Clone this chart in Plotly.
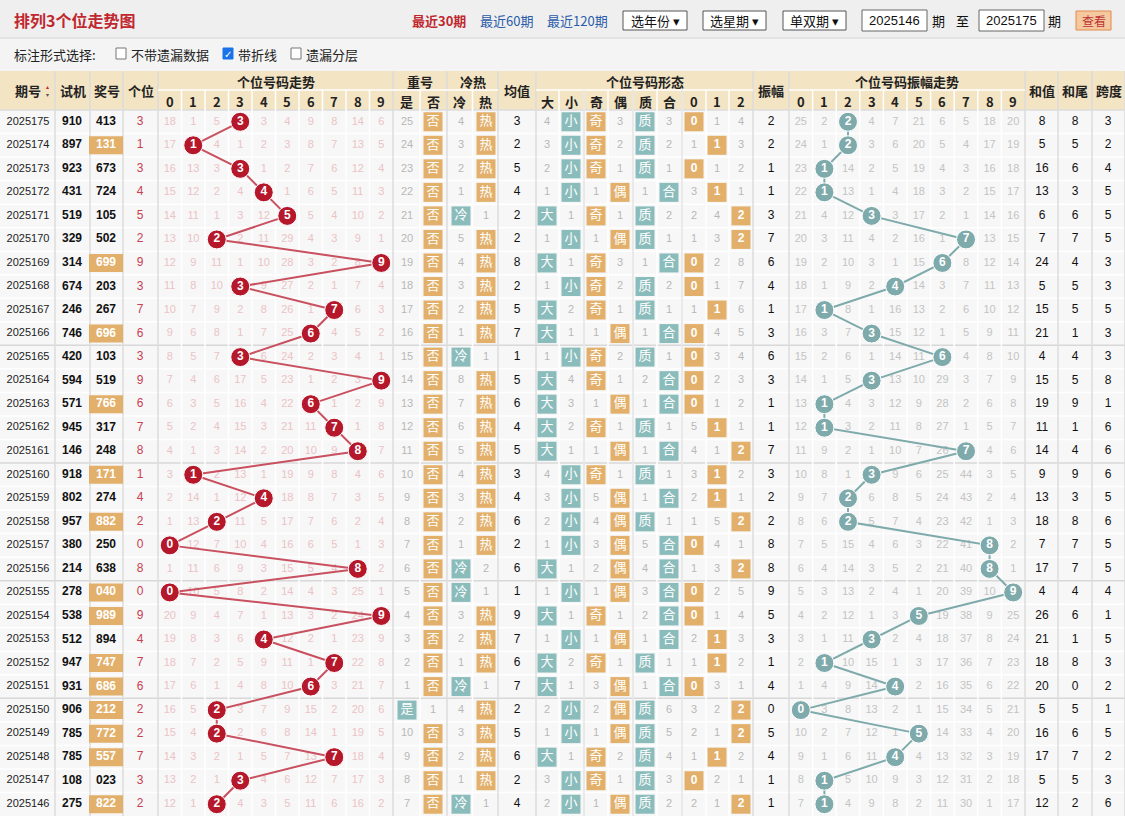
import plotly.graph_objects as go

# ---------------- data ----------------
periods = [2025175 - i for i in range(30)]
shiji = ["910","897","923","431","519","329","314","674","246","746","420","594","571","945","146",
         "918","802","957","380","214","278","538","512","947","931","906","785","785","108","275"]
jianghao = ["413","131","673","724","105","502","699","203","267","696","103","519","766","317","248",
            "171","274","882","250","638","040","989","894","747","686","212","772","557","023","822"]
trend_omit = [
    [18,1,5,0,3,4,9,8,14,6],[17,0,4,1,2,3,8,7,13,5],[16,13,3,0,1,2,7,6,12,4],[15,12,2,4,0,1,6,5,11,3],
    [14,11,1,3,12,0,5,4,10,2],[13,10,0,2,11,29,4,3,9,1],[12,9,11,1,10,28,3,2,8,0],[11,8,10,0,9,27,2,1,7,4],
    [10,7,9,2,8,26,1,0,6,3],[9,6,8,1,7,25,0,4,5,2],[8,5,7,0,6,24,2,3,4,1],[7,4,6,17,5,23,1,2,3,0],
    [6,3,5,16,4,22,0,1,2,9],[5,2,4,15,3,21,11,0,1,8],[4,1,3,14,2,20,10,9,0,7],[3,0,2,13,1,19,9,8,4,6],
    [2,14,1,12,0,18,8,7,3,5],[1,13,0,11,5,17,7,6,2,4],[0,12,7,10,4,16,6,5,1,3],[1,11,6,9,3,15,5,4,0,2],
    [0,10,5,8,2,14,4,3,25,1],[20,9,4,7,1,13,3,2,24,0],[19,8,3,6,0,12,2,1,23,9],[18,7,2,5,9,11,1,0,22,8],
    [17,6,1,4,8,10,0,3,21,7],[16,5,0,3,7,9,15,2,20,6],[15,4,0,2,6,8,14,1,19,5],[14,3,2,1,5,7,13,0,18,4],
    [13,2,1,0,4,6,12,7,17,3],[12,1,0,4,3,5,11,6,16,2]]
chong_yes = [25,24,23,22,21,20,19,18,17,16,15,14,13,12,11,10,9,8,7,6,5,4,3,2,1,"是",10,9,8,7]
chong_no = ["否"]*25 + [1] + ["否"]*4
leng = [4,3,2,1,"冷",5,4,3,2,1,"冷",8,7,6,5,4,3,2,1,"冷","冷",3,2,1,"冷",4,3,2,1,"冷"]
re = ["热","热","热","热",1,"热","热","热","热","热",1,"热","热","热","热","热","热","热","热",2,1,
      "热","热","热",1,"热","热","热","热",1]
junzhi = [3,2,5,4,2,2,8,2,5,7,1,5,6,4,5,3,4,6,2,6,1,9,7,6,7,2,5,6,2,4]
da = ["4","3","2","1","大","1","大","1","大","大","1","大","大","大","大","4","3","2","1","大","1","大","1","大","大","2","1","大","3","2"]
xiao = ["小","小","小","小","1","小","1","小","2","1","小","4","3","2","1","小","小","小","小","1","小","1","小","2","1","小","小","1","小","小"]
ji = ["奇","奇","奇","1","奇","1","奇","奇","奇","1","奇","奇","1","奇","1","奇","5","4","3","2","1","奇","1","奇","3","2","1","奇","奇","1"]
ou = ["3","2","1","偶","1","偶","3","2","1","偶","2","1","偶","1","偶","1","偶","偶","偶","偶","偶","1","偶","1","偶","偶","偶","2","1","偶"]
zhi = ["质","质","质","1","质","质","1","质","质","1","质","2","1","质","1","质","1","质","5","4","3","2","1","质","1","质","质","质","质","质"]
he = ["3","2","1","合","2","1","合","2","1","合","1","合","合","1","合","1","合","1","合","合","合","合","合","1","合","6","5","4","3","2"]
road0 = ["0","1","0","3","2","1","0","0","1","0","0","0","0","5","4","3","2","1","0","1","0","0","2","1","0","3","2","1","0","2"]
road1 = ["1","1","1","1","4","3","2","1","1","4","3","2","1","1","1","1","1","5","4","3","2","1","1","1","3","2","1","1","2","1"]
road2 = ["4","3","2","1","2","2","8","7","6","5","4","3","2","1","2","2","1","2","1","2","5","4","3","2","1","2","2","2","1","2"]
zhenfu = [2,2,1,1,3,7,6,4,1,3,6,3,1,1,7,3,2,2,8,8,9,5,3,1,4,0,5,4,1,1]
amp_omit = [
    [25,2,0,4,7,21,6,5,18,20],[24,1,0,3,6,20,5,4,17,19],[23,0,14,2,5,19,4,3,16,18],[22,0,13,1,4,18,3,2,15,17],
    [21,4,12,0,3,17,2,1,14,16],[20,3,11,4,2,16,1,0,13,15],[19,2,10,3,1,15,0,8,12,14],[18,1,9,2,0,14,3,7,11,13],
    [17,0,8,1,16,13,2,6,10,12],[16,3,7,0,15,12,1,5,9,11],[15,2,6,1,14,11,0,4,8,10],[14,1,5,0,13,10,29,3,7,9],
    [13,0,4,3,12,9,28,2,6,8],[12,0,3,2,11,8,27,1,5,7],[11,9,2,1,10,7,26,0,4,6],[10,8,1,0,9,6,25,44,3,5],
    [9,7,0,6,8,5,24,43,2,4],[8,6,0,5,7,4,23,42,1,3],[7,5,15,4,6,3,22,41,0,2],[6,4,14,3,5,2,21,40,0,1],
    [5,3,13,2,4,1,20,39,10,0],[4,2,12,1,3,0,19,38,9,25],[3,1,11,0,2,4,18,37,8,24],[2,0,10,15,1,3,17,36,7,23],
    [1,4,9,14,0,2,16,35,6,22],[0,3,8,13,2,1,15,34,5,21],[10,2,7,12,1,0,14,33,4,20],[9,1,6,11,0,4,13,32,3,19],
    [8,0,5,10,9,3,12,31,2,18],[7,0,4,9,8,2,11,30,1,17]]
hezhi = [8,5,16,13,6,7,24,5,15,21,4,15,19,11,14,9,13,18,7,17,4,26,21,18,20,5,16,17,5,12]
hewei = [8,5,6,3,6,7,4,5,5,1,4,5,9,1,4,9,3,8,7,7,4,6,1,8,0,5,6,7,5,2]
kuadu = [3,2,4,5,5,5,3,3,5,3,3,8,1,6,6,6,5,6,5,5,4,1,5,3,2,1,5,2,3,6]
ge = [int(j[-1]) for j in jianghao]

# ---------------- layout constants ----------------
W, H = 1125, 816
TOP, HMID, HBOT = 71, 90, 110
RH = (H - HBOT) / 30
def ry(i): return HBOT + RH * (i + 0.5)
TX0, TSTEP = 158, 23.5
def tx(d): return TX0 + TSTEP * (d + 0.5)
AX0, ASTEP = 789, 23.6
def ax(d): return AX0 + ASTEP * (d + 0.5)
ORANGE, TEAL, RED, GREYTXT, PINK = "#e2b06a", "#8bbcbc", "#b5172b", "#b8b8b8", "#ebc3c6"
FONT = "Liberation Sans"
CJK = "Noto Sans CJK SC"

fig = go.Figure()
shapes, anns = [], []

def line(x0, x1, y0, y1, color, width):
    shapes.append(dict(type="line", x0=x0, x1=x1, y0=y0, y1=y1, line=dict(color=color, width=width), layer="below"))

# background bars
shapes.append(dict(type="rect", x0=0, x1=W, y0=0, y1=38, fillcolor="#efefef", line_width=0, layer="below"))
line(0, W, 38, 38, "#d6d6d6", 1)
shapes.append(dict(type="rect", x0=0, x1=W, y0=39, y1=TOP, fillcolor="#f4f4f4", line_width=0, layer="below"))
shapes.append(dict(type="rect", x0=0, x1=W, y0=HBOT, y1=H, fillcolor="#f7f7f7", line_width=0, layer="below"))
shapes.append(dict(type="rect", x0=0, x1=W, y0=TOP, y1=HBOT, fillcolor="#f3e4c4", line_width=0, layer="below"))

single_cols = [("期号", 0, 55), ("试机", 55, 90), ("奖号", 90, 123), ("个位", 123, 158), ("均值", 498, 536),
               ("振幅", 753, 789), ("和值", 1025, 1058), ("和尾", 1058, 1092), ("跨度", 1092, W)]
groups = [("个位号码走势", 158, 393, [str(d) for d in range(10)]),
          ("重号", 393, 447, ["是", "否"]), ("冷热", 447, 498, ["冷", "热"]),
          ("个位号码形态", 536, 753, ["大", "小", "奇", "偶", "质", "合", "0", "1", "2"]),
          ("个位号码振幅走势", 789, 1025, [str(d) for d in range(10)])]
form_x = [547, 571, 596, 620, 645, 669, 694, 717, 741]
form_bounds = [536, 559, 584, 608, 633, 657, 682, 706, 729, 753]

# row lines
for i in range(1, 30):
    y = HBOT + RH * i
    sep = (i % 5 == 0 and i >= 6)
    line(0, W, y, y, "#d8d8d8" if sep else "#ffffff", 1.5)
line(0, W, HBOT, HBOT, "#dcdcdc", 1.5)

hdr_font = dict(family=CJK, size=13, color="#222")
for name, x0, x1 in single_cols:
    line(x1, x1, TOP, H, "#dcdcdc", 1.5)
    anns.append(dict(x=(x0 + x1) / 2, y=(TOP + HBOT) / 2, text=f"<b>{name}</b>", showarrow=False, font=hdr_font))
anns.append(dict(x=47, y=(TOP + HBOT) / 2, text="<span style='color:#c23'>▴</span><br>▾", showarrow=False,
                 font=dict(size=6, color="#555")))
for name, x0, x1, subs in groups:
    line(x1, x1, TOP, H, "#dcdcdc", 1.5)
    line(x0, x1, HMID, HMID, "#ffffff", 1.5)
    anns.append(dict(x=(x0 + x1) / 2, y=(TOP + HMID) / 2 + 1, text=f"<b>{name}</b>", showarrow=False, font=hdr_font))
    if name == "个位号码形态":
        xs = form_x
        bnds = form_bounds[1:-1]
    else:
        n = len(subs); w = (x1 - x0) / n
        xs = [x0 + w * (k + 0.5) for k in range(n)]
        bnds = [x0 + w * k for k in range(1, n)]
    for b in bnds:
        line(b, b, HMID, H, "#ffffff", 1.5)
    for sx, s in zip(xs, subs):
        anns.append(dict(x=sx, y=(HMID + HBOT) / 2 + 1, text=f"<b>{s}</b>", showarrow=False, font=hdr_font))
for b in [584, 633, 682]:
    line(b, b, HMID, H, "#dcdcdc", 1.2)

def add_text(xs, ys, texts, color, size=11, family=FONT, bold=False):
    fig.add_trace(go.Scatter(x=xs, y=ys, mode="text", text=[f"<b>{t}</b>" if bold else str(t) for t in texts],
                             textfont=dict(family=family, size=size, color=color), hoverinfo="skip", showlegend=False))

def add_badges(xs, ys, texts, color, family=CJK, size=13):
    if not xs: return
    fig.add_trace(go.Scatter(x=xs, y=ys, mode="markers+text", text=texts,
                             marker=dict(symbol="square", size=19, color=color, line_width=0),
                             textfont=dict(family=family, size=size, color="white"), hoverinfo="skip", showlegend=False))

ys = [ry(i) for i in range(30)]
add_text([28] * 30, ys, periods, "#222", 11)
add_text([72] * 30, ys, shiji, "#111", 12, bold=True)
for i, j in enumerate(jianghao):
    if len(set(j)) < 3:
        shapes.append(dict(type="rect", x0=106 - 17, x1=106 + 17, y0=ry(i) - 9, y1=ry(i) + 9,
                           fillcolor=ORANGE, line_width=0, layer="below"))
fig.add_trace(go.Scatter(x=[106] * 30, y=ys, mode="text",
                         text=[f"<span style='color:{'white' if len(set(j)) < 3 else '#111'}'><b>{j}</b></span>"
                               for j in jianghao],
                         textfont=dict(family=FONT, size=12), hoverinfo="skip", showlegend=False))
add_text([140] * 30, ys, ge, "#c9404f", 12)

ox, oy, ot = [], [], []
for i, row in enumerate(trend_omit):
    for d, v in enumerate(row):
        if d != ge[i]:
            ox.append(tx(d)); oy.append(ry(i)); ot.append(v)
add_text(ox, oy, ot, PINK, 11)
fig.add_trace(go.Scatter(x=[tx(g) for g in ge], y=ys, mode="lines", line=dict(color="#c8505f", width=2),
                         hoverinfo="skip", showlegend=False))
fig.add_trace(go.Scatter(x=[tx(g) for g in ge], y=ys, mode="markers+text", text=[f"<b>{g}</b>" for g in ge],
                         marker=dict(size=19, color=RED, line=dict(color="white", width=1)),
                         textfont=dict(family=FONT, size=12, color="white"), hoverinfo="skip", showlegend=False))

def badge_col(values, x, badge_color):
    bx, by, bt, nx, ny, nt = [], [], [], [], [], []
    for i, v in enumerate(values):
        if isinstance(v, str) and not v.isdigit():
            bx.append(x); by.append(ry(i)); bt.append(v)
        else:
            nx.append(x); ny.append(ry(i)); nt.append(v)
    add_text(nx, ny, nt, GREYTXT, 11)
    add_badges(bx, by, bt, badge_color)

badge_col(chong_yes, 407, TEAL)
badge_col(chong_no, 433, ORANGE)
badge_col(leng, 461, TEAL)
badge_col(re, 486, ORANGE)
add_text([517] * 30, ys, junzhi, "#111", 12)
badge_col(da, form_x[0], TEAL)
badge_col(xiao, form_x[1], TEAL)
badge_col(ji, form_x[2], ORANGE)
badge_col(ou, form_x[3], ORANGE)
badge_col(zhi, form_x[4], TEAL)
badge_col(he, form_x[5], TEAL)
for k, road in enumerate([road0, road1, road2]):
    bx, by, bt, nx, ny, nt = [], [], [], [], [], []
    for i, v in enumerate(road):
        if ge[i] % 3 == k:
            bx.append(form_x[6 + k]); by.append(ry(i)); bt.append(f"<b>{k}</b>")
        else:
            nx.append(form_x[6 + k]); ny.append(ry(i)); nt.append(v)
    add_text(nx, ny, nt, GREYTXT, 11)
    add_badges(bx, by, bt, ORANGE, family=FONT, size=12)

add_text([771] * 30, ys, zhenfu, "#111", 12)
ox, oy, ot = [], [], []
for i, row in enumerate(amp_omit):
    for d, v in enumerate(row):
        if d != zhenfu[i]:
            ox.append(ax(d)); oy.append(ry(i)); ot.append(v)
add_text(ox, oy, ot, "#c4c4c4", 11)
fig.add_trace(go.Scatter(x=[ax(z) for z in zhenfu], y=ys, mode="lines", line=dict(color="#7eaaab", width=2),
                         hoverinfo="skip", showlegend=False))
fig.add_trace(go.Scatter(x=[ax(z) for z in zhenfu], y=ys, mode="markers+text", text=[f"<b>{z}</b>" for z in zhenfu],
                         marker=dict(size=19, color="#7eaaab", line=dict(color="white", width=1)),
                         textfont=dict(family=FONT, size=12, color="white"), hoverinfo="skip", showlegend=False))
add_text([1042] * 30, ys, hezhi, "#111", 12)
add_text([1075] * 30, ys, hewei, "#111", 12)
add_text([1108] * 30, ys, kuadu, "#111", 12)

# ---------- top bar ----------
anns.append(dict(x=12, y=20, xanchor="left", text="<b>排列3个位走势图</b>", showarrow=False,
                 font=dict(family=CJK, size=16, color="#c0282f")))
anns.append(dict(x=410, y=20, xanchor="left", text="<b>最近30期</b>", showarrow=False,
                 font=dict(family=CJK, size=13, color="#c0282f")))
anns.append(dict(x=478, y=20, xanchor="left", text="最近60期", showarrow=False,
                 font=dict(family=CJK, size=13, color="#2a5caa")))
anns.append(dict(x=545, y=20, xanchor="left", text="最近120期", showarrow=False,
                 font=dict(family=CJK, size=13, color="#2a5caa")))
for label, x0, x1 in [("选年份 ▾", 623, 687), ("选星期 ▾", 703, 766), ("单双期 ▾", 783, 846)]:
    shapes.append(dict(type="rect", x0=x0, x1=x1, y0=11, y1=30, fillcolor="white", line=dict(color="#555", width=1)))
    anns.append(dict(x=(x0 + x1) / 2, y=20, text=label, showarrow=False, font=dict(family=CJK, size=13, color="#111")))
for val, x0, x1, lab, lx in [("2025146", 862, 927, "期", 938), ("2025175", 979, 1044, "期", 1054)]:
    shapes.append(dict(type="rect", x0=x0, x1=x1, y0=10, y1=31, fillcolor="white", line=dict(color="#666", width=1)))
    anns.append(dict(x=(x0 + x1) / 2, y=20, text=val, showarrow=False, font=dict(family=FONT, size=13, color="#111")))
    anns.append(dict(x=lx, y=20, text=lab, showarrow=False, font=dict(family=CJK, size=13, color="#111")))
anns.append(dict(x=962, y=20, text="至", showarrow=False, font=dict(family=CJK, size=13, color="#111")))
shapes.append(dict(type="rect", x0=1076, x1=1111, y0=11, y1=30, fillcolor="#f6c8a0", line=dict(color="#e08a50", width=1)))
anns.append(dict(x=1093.5, y=20, text="查看", showarrow=False, font=dict(family=CJK, size=12, color="#b33")))

anns.append(dict(x=12, y=54, xanchor="left", text="标注形式选择:", showarrow=False,
                 font=dict(family=CJK, size=13, color="#222")))
for lab, bx, checked in [("不带遗漏数据", 116, False), ("带折线", 223, True), ("遗漏分层", 291, False)]:
    shapes.append(dict(type="rect", x0=bx, x1=bx + 10, y0=48, y1=59,
                       fillcolor="#1a73e8" if checked else "white",
                       line=dict(color="#1a73e8" if checked else "#777", width=1)))
    if checked:
        anns.append(dict(x=bx + 5, y=53.5, text="✓", showarrow=False, font=dict(size=10, color="white")))
    anns.append(dict(x=bx + 13, y=54, xanchor="left", text=lab, showarrow=False,
                     font=dict(family=CJK, size=13, color="#222")))

fig.update_layout(width=W, height=H, margin=dict(l=0, r=0, t=0, b=0), paper_bgcolor="#f4f4f4",
                  plot_bgcolor="rgba(0,0,0,0)", shapes=shapes, annotations=anns, showlegend=False,
                  xaxis=dict(range=[0, W], visible=False, fixedrange=True),
                  yaxis=dict(range=[H, 0], visible=False, fixedrange=True))
fig.write_html("out.html", config={"displayModeBar": False},
               post_script="document.body.style.margin='0';document.body.style.overflow='hidden';")
